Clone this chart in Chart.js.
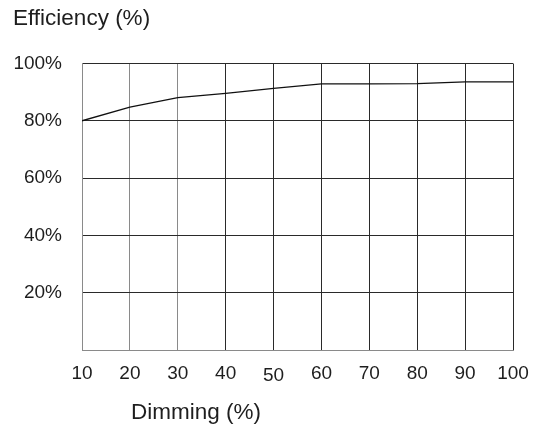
<!DOCTYPE html>
<html>
<head>
<meta charset="utf-8">
<script src="https://cdn.jsdelivr.net/npm/chart.js@4/dist/chart.umd.min.js"></script>
<style>
  html, body { margin: 0; padding: 0; background: #fff; }
  #wrap { width: 542px; height: 427px; position: relative; }
</style>
</head>
<body>
<div id="wrap"><canvas id="c"></canvas></div>
<script>
const dimming = [10, 20, 30, 40, 50, 60, 70, 80, 90, 100];
const efficiency = [80, 84.8, 88.1, 89.6, 91.3, 92.9, 92.9, 93.0, 93.6, 93.6];
const yTitle = 'Efficiency (%)';
const xTitle = 'Dimming (%)';

const FONT = "'Liberation Sans', Arial, Helvetica, sans-serif";
const TEXT = '#1e1e1e';

const xTitlePlugin = {
  id: 'xTitle',
  afterDraw(chart) {
    const ctx = chart.ctx;
    ctx.save();
    ctx.font = '22.5px ' + FONT;
    ctx.fillStyle = TEXT;
    ctx.textAlign = 'left';
    ctx.textBaseline = 'alphabetic';
    ctx.fillText(xTitle, 131, 418.5);
    ctx.restore();
  }
};

new Chart(document.getElementById('c'), {
  type: 'line',
  data: {
    datasets: [{
      data: dimming.map((d, i) => ({ x: d, y: efficiency[i] })),
      borderColor: '#111',
      borderWidth: 1.3,
      pointRadius: 0,
      tension: 0,
      fill: false
    }]
  },
  options: {
    responsive: true,
    maintainAspectRatio: false,
    animation: false,
    devicePixelRatio: 1,
    layout: { padding: { left: 13, right: 29, top: 4, bottom: 0 } },
    plugins: {
      legend: { display: false },
      tooltip: { enabled: false },
      title: {
        display: true,
        text: yTitle,
        align: 'start',
        color: TEXT,
        font: { family: FONT, size: 22.5, weight: 'normal', lineHeight: 1.2 },
        padding: { top: 1, bottom: 31.5 }
      }
    },
    scales: {
      x: {
        type: 'linear',
        min: 10,
        max: 100,
        afterFit(scale) { scale.height = 77; },
        ticks: {
          stepSize: 10,
          color: TEXT,
          padding: 12,
          font: (ctx) => ({
            family: FONT,
            size: 19,
            lineHeight: (ctx.tick && ctx.tick.value === 50) ? '28.2px' : '22.8px'
          })
        },
        grid: {
          drawTicks: false,
          lineWidth: 1,
          color: (ctx) => (ctx.tick && ctx.tick.value <= 30) ? '#8a8a8a' : '#2a2a2a'
        },
        border: { display: true, color: '#8a8a8a', width: 1 }
      },
      y: {
        min: 0,
        max: 100,
        afterFit(scale) { scale.width = 69; },
        ticks: {
          stepSize: 20,
          color: TEXT,
          padding: 20,
          font: { family: FONT, size: 19 },
          callback: (v) => v === 0 ? '' : v + '%'
        },
        grid: {
          drawTicks: false,
          lineWidth: 1,
          color: '#2a2a2a'
        },
        border: { display: true, color: '#8a8a8a', width: 1 }
      }
    }
  },
  plugins: [xTitlePlugin]
});
</script>
</body>
</html>
